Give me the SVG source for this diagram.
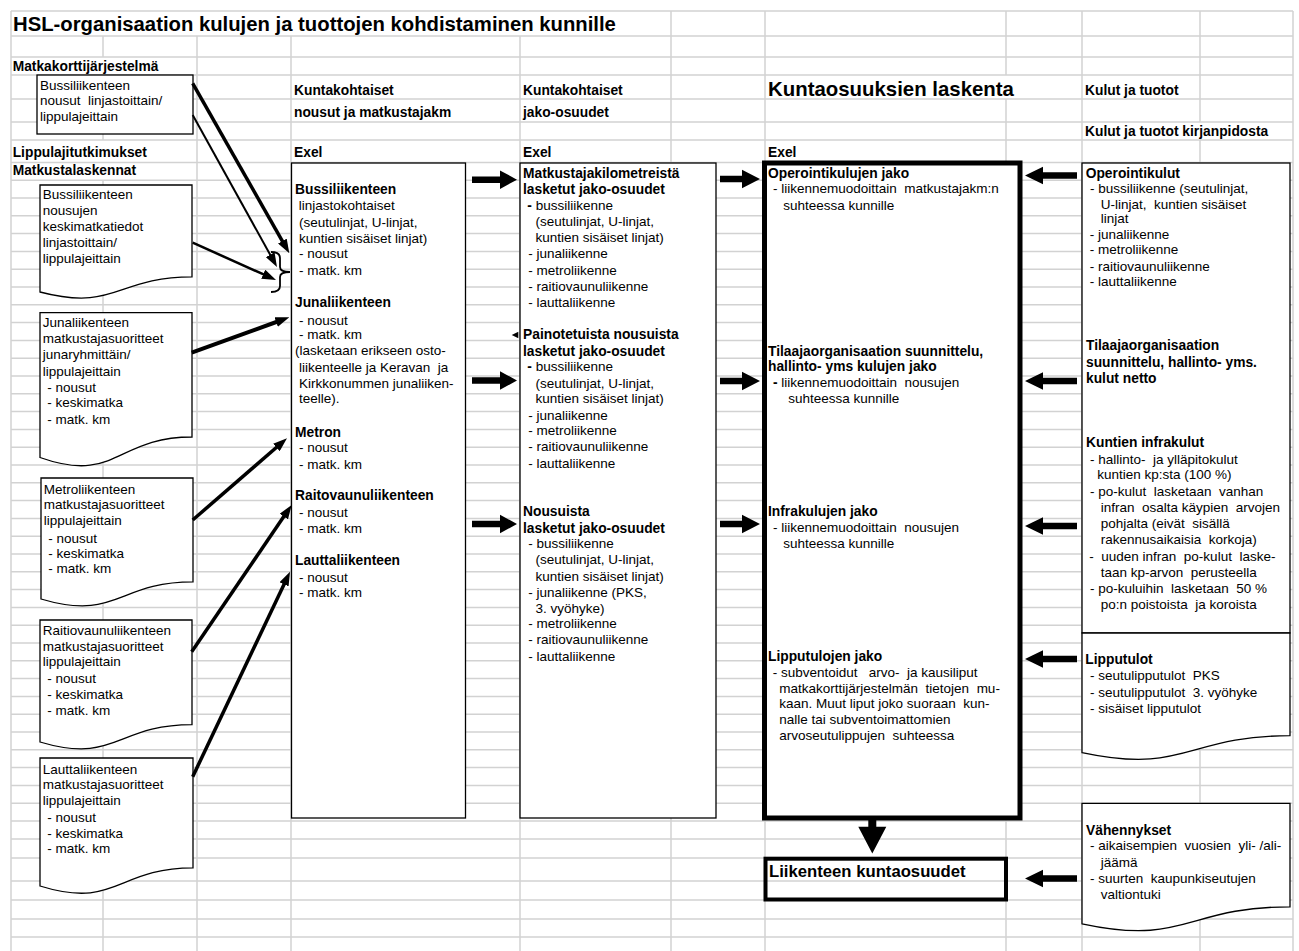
<svg xmlns="http://www.w3.org/2000/svg" width="1299" height="951" viewBox="0 0 1299 951">
<style>
.g{stroke:#d2d2d2;stroke-width:1.5;fill:none}
.t{font-family:"Liberation Sans",Arial,sans-serif;font-size:13.5px;fill:#000}
.b{font-weight:bold;font-size:13.8px}
.box{fill:#fff;stroke:#000;stroke-width:1.3}
.thick{fill:#fff;stroke:#000;stroke-width:5}
.blk{fill:#000;stroke:none}
.ln{stroke:#000;fill:none}
</style>
<defs>
<marker id="ah" markerUnits="userSpaceOnUse" markerWidth="14" markerHeight="10" refX="6" refY="5" orient="auto"><path d="M0,0 L14,5 L0,10 z" fill="#000"/></marker>
</defs>
<rect x="0" y="0" width="1299" height="951" fill="#fff"/>
<g id="grid" class="g">
<path d="M11,11H1293M11,36H1293M11,57H1293M11,75H1293M11,99H1293M11,122H1293M11,140H1293M11,162.4H1293M11,180.2H1293M11,198H1293M11,215.8H1293M11,233.6H1293M11,251.4H1293M11,269.2H1293M11,287H1293M11,304.8H1293M11,322.6H1293M11,340.4H1293M11,358.2H1293M11,376H1293M11,393.8H1293M11,411.6H1293M11,429.4H1293M11,447.2H1293M11,465H1293M11,482.8H1293M11,500.6H1293M11,518.4H1293M11,536.2H1293M11,554H1293M11,571.8H1293M11,589.6H1293M11,607.4H1293M11,625.2H1293M11,643H1293M11,660.8H1293M11,678.6H1293M11,696.4H1293M11,714.2H1293M11,732H1293M11,749.8H1293M11,767.6H1293M11,785.4H1293M11,803.2H1293M11,821H1293M11,839H1293M11,858H1293M11,881H1293M11,900H1293M11,919H1293M11,937H1293"/>
<path d="M11,11V951M103,36V57M103,75V140M103,180V951M197,36V951M291,36V951M520,36V951M671,11V951M765,11V951M1006,11V75M1006,99V951M1082,11V951M1200,11V122M1200,140V951M1293,11V951"/>
</g>
<g id="headers" class="t b">
<text x="13" y="30.5" style="font-size:20.3px">HSL-organisaation kulujen ja tuottojen kohdistaminen kunnille</text>
<text x="12.7" y="71">Matkakorttijärjestelmä</text>
<text x="294" y="95">Kuntakohtaiset</text>
<text x="294" y="116.7">nousut ja matkustajakm</text>
<text x="523" y="95">Kuntakohtaiset</text>
<text x="523" y="116.7">jako-osuudet</text>
<text x="768" y="96" style="font-size:20.4px">Kuntaosuuksien laskenta</text>
<text x="1085" y="95">Kulut ja tuotot</text>
<text x="1085" y="135.7">Kulut ja tuotot kirjanpidosta</text>
<text x="12.7" y="156.7">Lippulajitutkimukset</text>
<text x="12.7" y="175">Matkustalaskennat</text>
<text x="294" y="156.7">Exel</text>
<text x="523" y="156.7">Exel</text>
<text x="768" y="156.7">Exel</text>
</g>
<g id="src-bus-nousut">
<rect class="box" x="37" y="75" width="156" height="59"/>
<text class="t"><tspan x="40" y="90">Bussiliikenteen</tspan><tspan x="40" y="105" xml:space="preserve">nousut  linjastoittain/</tspan><tspan x="40" y="120.7">lippulajeittain</tspan></text>
</g>
<g id="src-bus-keskimatka">
<path class="box" d="M40,185H192V276.9C116,276.9 116,311.9 40,292Z"/>
<text class="t"><tspan x="42.7" y="199.3">Bussiliikenteen</tspan><tspan x="42.7" y="215">nousujen</tspan><tspan x="42.7" y="231">keskimatkatiedot</tspan><tspan x="42.7" y="246.7">linjastoittain/</tspan><tspan x="42.7" y="263.3">lippulajeittain</tspan></text>
</g>
<g id="src-juna">
<path class="box" d="M40,312.7H192V437C116,437 116,484.4 40,457.5Z"/>
<text class="t"><tspan x="42.7" y="327.3">Junaliikenteen</tspan><tspan x="42.7" y="343.3">matkustajasuoritteet</tspan><tspan x="42.7" y="359.3">junaryhmittäin/</tspan><tspan x="42.7" y="376">lippulajeittain</tspan><tspan x="47.3" y="391.7">- nousut</tspan><tspan x="47.3" y="407.3">- keskimatka</tspan><tspan x="47.3" y="424">- matk. km</tspan></text>
</g>
<g id="src-metro">
<path class="box" d="M41,478H193V581.9C117,581.9 117,621.5 41,599Z"/>
<text class="t"><tspan x="43.7" y="494.3">Metroliikenteen</tspan><tspan x="43.7" y="509.3">matkustajasuoritteet</tspan><tspan x="43.7" y="525">lippulajeittain</tspan><tspan x="48.3" y="542.7">- nousut</tspan><tspan x="48.3" y="558.3">- keskimatka</tspan><tspan x="48.3" y="573.3">- matk. km</tspan></text>
</g>
<g id="src-raitio">
<path class="box" d="M40,620H192V724.7C116,724.7 116,764.6 40,742Z"/>
<text class="t"><tspan x="42.7" y="635">Raitiovaunuliikenteen</tspan><tspan x="42.7" y="650.7">matkustajasuoritteet</tspan><tspan x="42.7" y="666">lippulajeittain</tspan><tspan x="47.3" y="683.3">- nousut</tspan><tspan x="47.3" y="699.3">- keskimatka</tspan><tspan x="47.3" y="715">- matk. km</tspan></text>
</g>
<g id="src-lautta">
<path class="box" d="M40,758H193V867.9C116.5,867.9 116.5,909.7 40,886Z"/>
<text class="t"><tspan x="42.7" y="774.3">Lauttaliikenteen</tspan><tspan x="42.7" y="789.3">matkustajasuoritteet</tspan><tspan x="42.7" y="805">lippulajeittain</tspan><tspan x="47.3" y="822.3">- nousut</tspan><tspan x="47.3" y="837.7">- keskimatka</tspan><tspan x="47.3" y="853.3">- matk. km</tspan></text>
</g>
<g id="kunta-nousut">
<rect class="box" x="291.5" y="163" width="174" height="655"/>
<text class="t">
<tspan x="295" y="194.3" class="b">Bussiliikenteen</tspan>
<tspan x="298.7" y="210">linjastokohtaiset</tspan>
<tspan x="299" y="226.7">(seutulinjat, U-linjat,</tspan>
<tspan x="299" y="242.7">kuntien sisäiset linjat)</tspan>
<tspan x="299" y="258.3">- nousut</tspan>
<tspan x="299" y="275">- matk. km</tspan>
<tspan x="295" y="307.3" class="b">Junaliikenteen</tspan>
<tspan x="299" y="325">- nousut</tspan>
<tspan x="299" y="339.3">- matk. km</tspan>
<tspan x="295" y="355">(lasketaan erikseen osto-</tspan>
<tspan x="299" y="371.7" xml:space="preserve">liikenteelle ja Keravan  ja</tspan>
<tspan x="299" y="388.3">Kirkkonummen junaliiken-</tspan>
<tspan x="299" y="403.3">teelle).</tspan>
<tspan x="295" y="436.7" class="b">Metron</tspan>
<tspan x="299" y="452.3">- nousut</tspan>
<tspan x="299" y="469">- matk. km</tspan>
<tspan x="295" y="500" class="b">Raitovaunuliikenteen</tspan>
<tspan x="299" y="517.3">- nousut</tspan>
<tspan x="299" y="533.3">- matk. km</tspan>
<tspan x="295" y="565" class="b">Lauttaliikenteen</tspan>
<tspan x="299" y="581.7">- nousut</tspan>
<tspan x="299" y="597.3">- matk. km</tspan>
</text>
</g>
<g id="jako-osuudet">
<rect class="box" x="520" y="163" width="196" height="655"/>
<text class="t">
<tspan x="523" y="178.3" class="b">Matkustajakilometreistä</tspan>
<tspan x="523" y="194.3" class="b">lasketut jako-osuudet</tspan>
<tspan x="527.3" y="210" class="b">-</tspan><tspan> bussiliikenne</tspan>
<tspan x="535.5" y="226">(seutulinjat, U-linjat,</tspan>
<tspan x="535.5" y="242.3">kuntien sisäiset linjat)</tspan>
<tspan x="528.3" y="258.3">- junaliikenne</tspan>
<tspan x="528.3" y="275">- metroliikenne</tspan>
<tspan x="528.3" y="290.7">- raitiovaunuliikenne</tspan>
<tspan x="528.3" y="306.7">- lauttaliikenne</tspan>
<tspan x="523" y="339" class="b">Painotetuista nousuista</tspan>
<tspan x="523" y="355.7" class="b">lasketut jako-osuudet</tspan>
<tspan x="527.3" y="371" class="b">-</tspan><tspan> bussiliikenne</tspan>
<tspan x="535.5" y="387.7">(seutulinjat, U-linjat,</tspan>
<tspan x="535.5" y="403.3">kuntien sisäiset linjat)</tspan>
<tspan x="528.3" y="420">- junaliikenne</tspan>
<tspan x="528.3" y="435">- metroliikenne</tspan>
<tspan x="528.3" y="451">- raitiovaunuliikenne</tspan>
<tspan x="528.3" y="467.7">- lauttaliikenne</tspan>
<tspan x="523" y="516" class="b">Nousuista</tspan>
<tspan x="523" y="532.7" class="b">lasketut jako-osuudet</tspan>
<tspan x="528.3" y="548.3">- bussiliikenne</tspan>
<tspan x="535.5" y="564.3">(seutulinjat, U-linjat,</tspan>
<tspan x="535.5" y="580.7">kuntien sisäiset linjat)</tspan>
<tspan x="528.3" y="596.7">- junaliikenne (PKS,</tspan>
<tspan x="535.5" y="612.7">3. vyöhyke)</tspan>
<tspan x="528.3" y="628.3">- metroliikenne</tspan>
<tspan x="528.3" y="644">- raitiovaunuliikenne</tspan>
<tspan x="528.3" y="660.7">- lauttaliikenne</tspan>
</text>
</g>
<g id="kuntaosuuksien-laskenta">
<rect class="thick" x="764.5" y="163" width="255.5" height="655"/>
<text class="t">
<tspan x="768" y="178.3" class="b">Operointikulujen jako</tspan>
<tspan x="773" y="193.3" xml:space="preserve">- liikennemuodoittain  matkustajakm:n</tspan>
<tspan x="783.3" y="210">suhteessa kunnille</tspan>
<tspan x="768" y="355.7" class="b">Tilaajaorganisaation suunnittelu,</tspan>
<tspan x="768" y="371" class="b">hallinto- yms kulujen jako</tspan>
<tspan x="773" y="386.7" class="b">-</tspan><tspan xml:space="preserve"> liikennemuodoittain  nousujen</tspan>
<tspan x="788.3" y="402.7">suhteessa kunnille</tspan>
<tspan x="768" y="516" class="b">Infrakulujen jako</tspan>
<tspan x="773" y="531.7" xml:space="preserve">- liikennemuodoittain  nousujen</tspan>
<tspan x="783.3" y="547.7">suhteessa kunnille</tspan>
<tspan x="768" y="660.7" class="b">Lipputulojen jako</tspan>
<tspan x="772.7" y="676.7" xml:space="preserve">- subventoidut   arvo-  ja kausiliput</tspan>
<tspan x="779.3" y="692.7" xml:space="preserve">matkakorttijärjestelmän  tietojen  mu-</tspan>
<tspan x="779.3" y="708.3" xml:space="preserve">kaan. Muut liput joko suoraan  kun-</tspan>
<tspan x="779.3" y="724">nalle tai subventoimattomien</tspan>
<tspan x="779.3" y="740" xml:space="preserve">arvoseutulippujen  suhteessa</tspan>
</text>
</g>
<g id="liikenteen-kuntaosuudet">
<rect x="765.5" y="858.7" width="240.5" height="40.8" fill="none" stroke="#000" stroke-width="4"/>
<text class="t b" x="769" y="876.5" style="font-size:16.7px">Liikenteen kuntaosuudet</text>
</g>
<g id="kulut-kirjanpidosta">
<rect class="box" x="1082" y="163" width="208" height="470"/>
<text class="t">
<tspan x="1085.7" y="178.3" class="b">Operointikulut</tspan>
<tspan x="1090" y="193.3">- bussiliikenne (seutulinjat,</tspan>
<tspan x="1100.7" y="209.3" xml:space="preserve">U-linjat,  kuntien sisäiset</tspan>
<tspan x="1100.7" y="223.3">linjat</tspan>
<tspan x="1089.7" y="239.3">- junaliikenne</tspan>
<tspan x="1089.7" y="254">- metroliikenne</tspan>
<tspan x="1089.7" y="270.7">- raitiovaunuliikenne</tspan>
<tspan x="1089.7" y="286">- lauttaliikenne</tspan>
<tspan x="1086" y="350" class="b">Tilaajaorganisaation</tspan>
<tspan x="1086" y="367.3" class="b">suunnittelu, hallinto- yms.</tspan>
<tspan x="1086" y="383.3" class="b">kulut netto</tspan>
<tspan x="1086" y="447.3" class="b">Kuntien infrakulut</tspan>
<tspan x="1090" y="464" xml:space="preserve">- hallinto-  ja ylläpitokulut</tspan>
<tspan x="1097.3" y="479.3">kuntien kp:sta (100 %)</tspan>
<tspan x="1090" y="495.7" xml:space="preserve">- po-kulut  lasketaan  vanhan</tspan>
<tspan x="1100.7" y="512.3" xml:space="preserve">infran  osalta käypien  arvojen</tspan>
<tspan x="1100.7" y="528.3" xml:space="preserve">pohjalta (eivät  sisällä</tspan>
<tspan x="1100.7" y="544.3" xml:space="preserve">rakennusaikaisia  korkoja)</tspan>
<tspan x="1089.3" y="560.7" xml:space="preserve">-  uuden infran  po-kulut  laske-</tspan>
<tspan x="1100.7" y="576.7" xml:space="preserve">taan kp-arvon  perusteella</tspan>
<tspan x="1090" y="592.7" xml:space="preserve">- po-kuluihin  lasketaan  50 %</tspan>
<tspan x="1100.7" y="609" xml:space="preserve">po:n poistoista  ja koroista</tspan>
</text>
</g>
<g id="lipputulot">
<path class="box" d="M1082,633H1290V735.7C1186,735.7 1186,774.8 1082,752.6Z"/>
<text class="t">
<tspan x="1085.3" y="664.3" class="b">Lipputulot</tspan>
<tspan x="1090" y="680" xml:space="preserve">- seutulipputulot  PKS</tspan>
<tspan x="1090" y="696.7" xml:space="preserve">- seutulipputulot  3. vyöhyke</tspan>
<tspan x="1090" y="712.7">- sisäiset lipputulot</tspan>
</text>
</g>
<g id="vahennykset">
<path class="box" d="M1082,803.3H1290V906.8C1186,906.8 1186,946.2 1082,923.8Z"/>
<text class="t">
<tspan x="1086" y="835" class="b">Vähennykset</tspan>
<tspan x="1090" y="850" xml:space="preserve">- aikaisempien  vuosien  yli- /ali-</tspan>
<tspan x="1100.7" y="866.7">jäämä</tspan>
<tspan x="1090" y="883.3" xml:space="preserve">- suurten  kaupunkiseutujen</tspan>
<tspan x="1100.7" y="899.3">valtiontuki</tspan>
</text>
</g>
<g id="connectors">
<g class="ln" marker-end="url(#ah)">
<line x1="192.7" y1="83.3" x2="285.35" y2="246.34" stroke-width="3.5"/>
<line x1="192.7" y1="115" x2="273.1" y2="260" stroke-width="2"/>
<line x1="192.7" y1="242.7" x2="268.7" y2="276.7" stroke-width="2.5"/>
<line x1="191.7" y1="352.7" x2="281.8" y2="320" stroke-width="4"/>
<line x1="192.7" y1="520" x2="280.95" y2="443.5" stroke-width="3.5"/>
<line x1="191.7" y1="651.7" x2="287.2" y2="511.6" stroke-width="3.5"/>
<line x1="192.7" y1="776.7" x2="286.6" y2="578.9" stroke-width="3.5"/>
</g>
<path class="ln" stroke-width="1.8" d="M271,252Q280,252 280,258V267Q280,272 290,272Q280,272 280,277V286Q280,292 271,292"/>
<g class="blk">
<polygon points="472,176.4 500,176.4 500,170.4 517,179.7 500,189 500,183 472,183"/>
<polygon points="472,377.2 500,377.2 500,371.2 517,380.5 500,389.8 500,383.8 472,383.8"/>
<polygon points="472,520.7 500,520.7 500,514.7 517,524 500,533.3 500,527.3 472,527.3"/>
<polygon points="720,175.7 742,175.7 742,169.7 760,179 742,188.3 742,182.3 720,182.3"/>
<polygon points="720,377.7 742,377.7 742,371.7 760,381 742,390.3 742,384.3 720,384.3"/>
<polygon points="720,520.7 742,520.7 742,514.7 760,524 742,533.3 742,527.3 720,527.3"/>
<polygon points="1077,172.2 1043,172.2 1043,166.8 1025,175.5 1043,184.2 1043,178.8 1077,178.8"/>
<polygon points="1077,377.7 1043,377.7 1043,372.3 1025,381 1043,389.7 1043,384.3 1077,384.3"/>
<polygon points="1077,522.7 1043,522.7 1043,517.3 1025,526 1043,534.7 1043,529.3 1077,529.3"/>
<polygon points="1077,655.7 1043,655.7 1043,650.3 1025,659 1043,667.7 1043,662.3 1077,662.3"/>
<polygon points="1077,875.2 1043,875.2 1043,869.8 1025,878.5 1043,887.2 1043,881.8 1077,881.8"/>
<polygon points="868.3,818 876.3,818 876.3,826.7 886.3,826.7 872.3,853.5 858.3,826.7 868.3,826.7"/>
<polygon points="511.7,335 518.3,331.7 518.3,338.3"/>
</g>
</g>
</svg>
